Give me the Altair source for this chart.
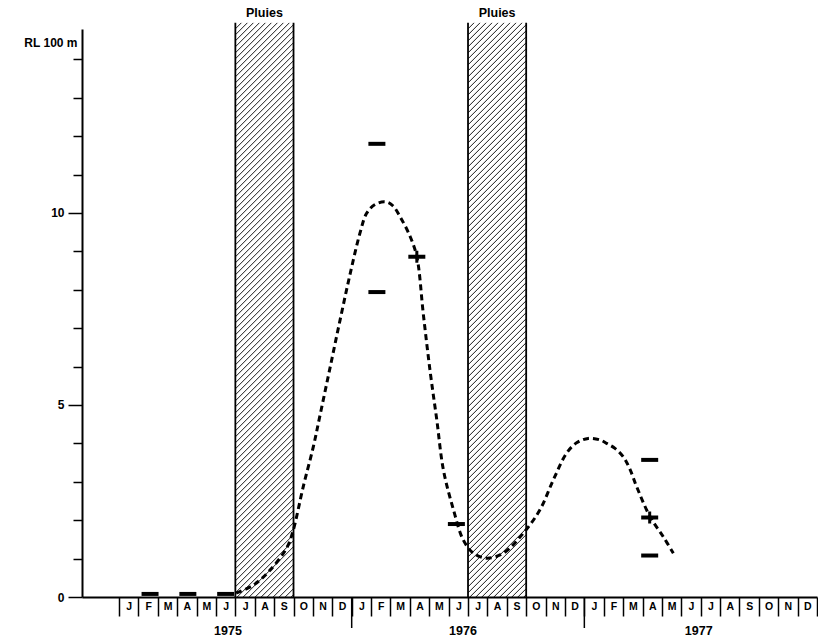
import altair as alt
import pandas as pd
import numpy as np

# ---------------- data (x in months, 0 = start of Jan 1975) ----------------
month_letters = list("JFMAMJJASOND") * 3
year_names = ["1975", "1976", "1977"]
year_label_x = [5.62, 17.74, 29.9]
year_bounds = [12, 24]

rain_start = [6, 18]
rain_end = [9, 21]
rain_top = 14.95
rain_label = ["Pluies", "Pluies"]

dash_x = [1.6, 3.55, 5.5, 13.3, 13.3, 17.4, 27.37, 27.37]
dash_y = [0.08, 0.08, 0.08, 11.8, 7.94, 1.9, 3.57, 1.08]
plus_x = [15.36, 27.37]
plus_y = [8.86, 2.07]

curve_x = [6.04, 6.93, 7.79, 8.65, 8.96, 9.5, 10.02, 10.37, 10.88, 11.4, 11.91,
           12.43, 12.77, 13.2, 13.73, 14.1, 14.5, 15.02, 15.36, 15.7, 16.05,
           16.39, 16.73, 17.25, 17.76, 18.28, 18.96, 19.82, 20.85, 21.71, 22.40,
           23.09, 23.62, 24.20, 24.81, 25.15, 25.58, 26.01, 26.35, 26.70, 27.39,
           28.07, 28.59]
curve_y = [0.1, 0.31, 0.70, 1.28, 1.69, 2.87, 3.91, 4.74, 5.96, 7.21, 8.39,
           9.48, 9.99, 10.22, 10.29, 10.2, 9.9, 9.38, 8.86, 7.34, 5.86,
           4.61, 3.31, 2.27, 1.48, 1.14, 1.01, 1.14, 1.66, 2.27, 3.05,
           3.75, 4.02, 4.13, 4.09, 4.0, 3.87, 3.65, 3.33, 2.87, 2.09,
           1.57, 1.14]

# ---------------- layout ----------------
W, H = 735, 568
X_DOM = [-1.91, 36]
Y_DOM = [0, 14.79]
FONT = "Liberation Sans"
px_m = W / (X_DOM[1] - X_DOM[0])
px_u = H / (Y_DOM[1] - Y_DOM[0])

xscale = alt.Scale(domain=X_DOM, nice=False, zero=False)
yscale = alt.Scale(domain=Y_DOM, nice=False, zero=False)

xaxis = alt.Axis(
    values=list(range(37)), title=None, grid=False,
    domainColor="black", domainWidth=2,
    tickColor="black", tickWidth=1.5, tickSize=19,
    labelExpr="datum.value < 36 ? ['J','F','M','A','M','J','J','A','S','O','N','D'][datum.value % 12] : ''",
    labelOffset=px_m / 2, labelPadding=-15, labelAngle=0,
    labelFont=FONT, labelFontWeight="bold", labelFontSize=10.5, labelColor="black",
    labelFlush=False, labelOverlap=False, labelBaseline="top",
)
yaxis = alt.Axis(
    values=list(range(15)), title="RL 100 m", grid=False,
    domainColor="black", domainWidth=2,
    tickColor="black", tickWidth=1.5,
    tickSize={"condition": {"test": "datum.value % 5 == 0", "value": 14}, "value": 9},
    labelExpr="datum.value % 5 == 0 ? datum.label : ''",
    labelPadding=4, labelFont=FONT, labelFontWeight="bold", labelFontSize=12, labelColor="black",
    titleAngle=0, titleAlign="right", titleBaseline="middle", titleX=-5, titleY=13,
    titleFont=FONT, titleFontWeight="bold", titleFontSize=12, titleColor="black",
)


def X(f):
    return alt.X(f, type="quantitative", scale=xscale, axis=xaxis)


def Y(f):
    return alt.Y(f, type="quantitative", scale=yscale, axis=yaxis)


# hatching lines built from the band limits
hx, hy, hx2, hy2 = [], [], [], []
for x0, x1 in zip(rain_start, rain_end):
    w = (x1 - x0) * px_m
    h = rain_top * px_u
    for c in np.arange(-h, w, 6.0):
        xs = max(0.0, c)
        xe = min(w, c + h)
        if xe <= xs:
            continue
        hx.append(x0 + xs / px_m); hy.append((xs - c) / px_u)
        hx2.append(x0 + xe / px_m); hy2.append((xe - c) / px_u)
hatch = pd.DataFrame({"x": hx, "y": hy, "x2": hx2, "y2": hy2})

edges = pd.DataFrame({"x": rain_start + rain_end, "y": 0.0, "y2": rain_top})
rain_text = pd.DataFrame({"x": [(a + b) / 2 for a, b in zip(rain_start, rain_end)],
                          "y": rain_top, "t": rain_label})
dashes = pd.DataFrame({"x": dash_x, "y": dash_y})
pluses = pd.DataFrame({"x": plus_x, "y": plus_y})
curve = pd.DataFrame({"x": curve_x, "y": curve_y})
years = pd.DataFrame({"x": year_label_x, "t": year_names})
ybounds = pd.DataFrame({"x": year_bounds})

base_hatch = alt.Chart(hatch).mark_rule(color="black", strokeWidth=0.9).encode(
    x=X("x"), y=Y("y"), x2="x2", y2="y2")
edge_rules = alt.Chart(edges).mark_rule(color="black", strokeWidth=1.8).encode(
    x=X("x"), y=Y("y"), y2="y2")
rain_lbl = alt.Chart(rain_text).mark_text(font=FONT, fontWeight="bold", fontSize=12.5,
                                          baseline="bottom", dy=-3, color="black").encode(
    x=X("x"), y=Y("y"), text="t:N")
line = alt.Chart(curve).mark_line(color="black", strokeWidth=3, strokeDash=[6, 4],
                                  interpolate="catmull-rom").encode(x=X("x"), y=Y("y"))
dash_marks = alt.Chart(dashes).mark_tick(orient="horizontal", size=17, thickness=4,
                                         color="black", opacity=1).encode(x=X("x"), y=Y("y"))
plus_h = alt.Chart(pluses).mark_tick(orient="horizontal", size=17, thickness=4,
                                     color="black", opacity=1).encode(x=X("x"), y=Y("y"))
plus_v = alt.Chart(pluses).mark_tick(orient="vertical", size=12, thickness=3,
                                     color="black", opacity=1).encode(x=X("x"), y=Y("y"))
year_sep = alt.Chart(ybounds).mark_rule(color="black", strokeWidth=1.5).encode(
    x=X("x"), y=alt.value(H), y2=alt.value(H + 31))
year_lbl = alt.Chart(years).mark_text(font=FONT, fontWeight="bold", fontSize=12.5,
                                      baseline="middle", color="black").encode(
    x=X("x"), y=alt.value(H + 34), text="t:N")

chart = alt.layer(base_hatch, edge_rules, rain_lbl, line, dash_marks, plus_h, plus_v,
                  year_sep, year_lbl).properties(
    width=W, height=H,
    padding={"left": 82, "top": 29, "right": 1, "bottom": 41},
    autosize=alt.AutoSizeParams(type="none"),
    background="white",
).configure_view(stroke=None)

chart.save("out.html", embed_options={"renderer": "svg", "actions": False})
